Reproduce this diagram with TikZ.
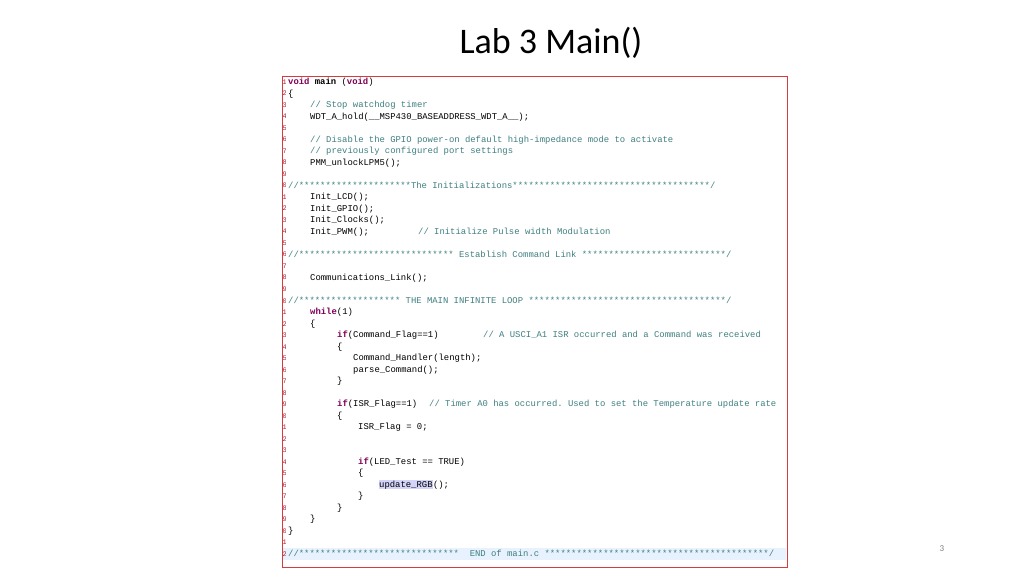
\documentclass[tikz,border=0pt]{standalone}
\usepackage{fontspec}
\setmainfont{Carlito}
\setmonofont{Liberation Mono}
\definecolor{cmtgreen}{RGB}{63,127,127}
\definecolor{kwpurple}{RGB}{127,0,85}
\definecolor{boxred}{RGB}{214,60,60}
\definecolor{bandblue}{RGB}{232,242,254}
\definecolor{hlpurple}{RGB}{212,212,250}
\newcommand\cm[1]{\textcolor{cmtgreen}{#1}}
\newcommand\kw[1]{\textcolor{kwpurple}{\bfseries #1}}
\newcommand\ly[1]{82+(#1-1)*11.51}
\begin{document}
\begin{tikzpicture}[x=1pt,y=-1pt]
\tikzstyle{codeline}=[anchor=west,inner sep=0pt,font=\ttfamily\fontsize{8.9}{10}\selectfont,text height=7pt,text depth=2pt]
\tikzstyle{lineno}=[anchor=east,inner sep=0pt,text=kwpurple!70!orange,font=\ttfamily\fontsize{7}{8}\selectfont]
\useasboundingbox (0,0) rectangle (1024,576);
\node [font=\fontsize{36}{40}\selectfont] (title) at (551,43) {Lab 3 Main()};
\node [text=gray,font=\fontsize{9}{10}\selectfont] (pageno) at (942,549) {3};
% band behind last line
\fill [bandblue] (283,{\ly{42}-6}) rectangle (786,{\ly{42}+6});
% line numbers, clipped at the left edge
\begin{scope}
\clip (282,76) rectangle (285.5,567);
\foreach \i in {1,...,42}{
  \pgfmathtruncatemacro\d{mod(\i,10)}
  \node [lineno] at (287,{\ly{\i}}) {\d};
}
\end{scope}
\node [codeline] (l1) at (288,{\ly{1}}) {\kw{void} \textbf{main} (\kw{void})};
\node [codeline] (l2) at (288,{\ly{2}}) {\{};
\node [codeline] (l3) at (310,{\ly{3}}) {\cm{// Stop watchdog timer}};
\node [codeline] (l4) at (310,{\ly{4}}) {WDT\_A\_hold(\_\_MSP430\_BASEADDRESS\_WDT\_A\_\_);};
\node [codeline] (l6) at (310,{\ly{6}}) {\cm{// Disable the GPIO power-on default high-impedance mode to activate}};
\node [codeline] (l7) at (310,{\ly{7}}) {\cm{// previously configured port settings}};
\node [codeline] (l8) at (310,{\ly{8}}) {PMM\_unlockLPM5();};
\node [codeline] (l10) at (288,{\ly{10}}) {\cm{//*********************The Initializations*************************************/}};
\node [codeline] (l11) at (310,{\ly{11}}) {Init\_LCD();};
\node [codeline] (l12) at (310,{\ly{12}}) {Init\_GPIO();};
\node [codeline] (l13) at (310,{\ly{13}}) {Init\_Clocks();};
\node [codeline] (l14) at (310,{\ly{14}}) {Init\_PWM();};
\node [codeline] (c14) at (418,{\ly{14}}) {\cm{// Initialize Pulse width Modulation}};
\node [codeline] (l16) at (288,{\ly{16}}) {\cm{//*****************************~Establish Command Link~***************************/}};
\node [codeline] (l18) at (310,{\ly{18}}) {Communications\_Link();};
\node [codeline] (l20) at (288,{\ly{20}}) {\cm{//*******************~THE MAIN INFINITE LOOP~*************************************/}};
\node [codeline] (l21) at (310,{\ly{21}}) {\kw{while}(1)};
\node [codeline] (l22) at (310,{\ly{22}}) {\{};
\node [codeline] (l23) at (337,{\ly{23}}) {\kw{if}(Command\_Flag==1)};
\node [codeline] (c23) at (483,{\ly{23}}) {\cm{// A USCI\_A1 ISR occurred and a Command was received}};
\node [codeline] (l24) at (337,{\ly{24}}) {\{};
\node [codeline] (l25) at (353,{\ly{25}}) {Command\_Handler(length);};
\node [codeline] (l26) at (353,{\ly{26}}) {parse\_Command();};
\node [codeline] (l27) at (337,{\ly{27}}) {\}};
\node [codeline] (l29) at (337,{\ly{29}}) {\kw{if}(ISR\_Flag==1)};
\node [codeline] (c29) at (429,{\ly{29}}) {\cm{// Timer A0 has occurred. Used to set the Temperature update rate}};
\node [codeline] (l30) at (337,{\ly{30}}) {\{};
\node [codeline] (l31) at (358,{\ly{31}}) {ISR\_Flag = 0;};
\node [codeline] (l34) at (358,{\ly{34}}) {\kw{if}(LED\_Test == TRUE)};
\node [codeline] (l35) at (358,{\ly{35}}) {\{};
\node [codeline,fill=hlpurple] (l36) at (379,{\ly{36}}) {update\_RGB};
\node [codeline] (l36b) at (l36.east) {();};
\node [codeline] (l37) at (358,{\ly{37}}) {\}};
\node [codeline] (l38) at (337,{\ly{38}}) {\}};
\node [codeline] (l39) at (310,{\ly{39}}) {\}};
\node [codeline] (l40) at (288,{\ly{40}}) {\}};
\node [codeline] (l42) at (288,{\ly{42}}) {\cm{//******************************~~END of main.c ******************************************/}};
\draw [boxred,line width=0.8pt] (282,76) rectangle (787,567);
\end{tikzpicture}
\end{document}
